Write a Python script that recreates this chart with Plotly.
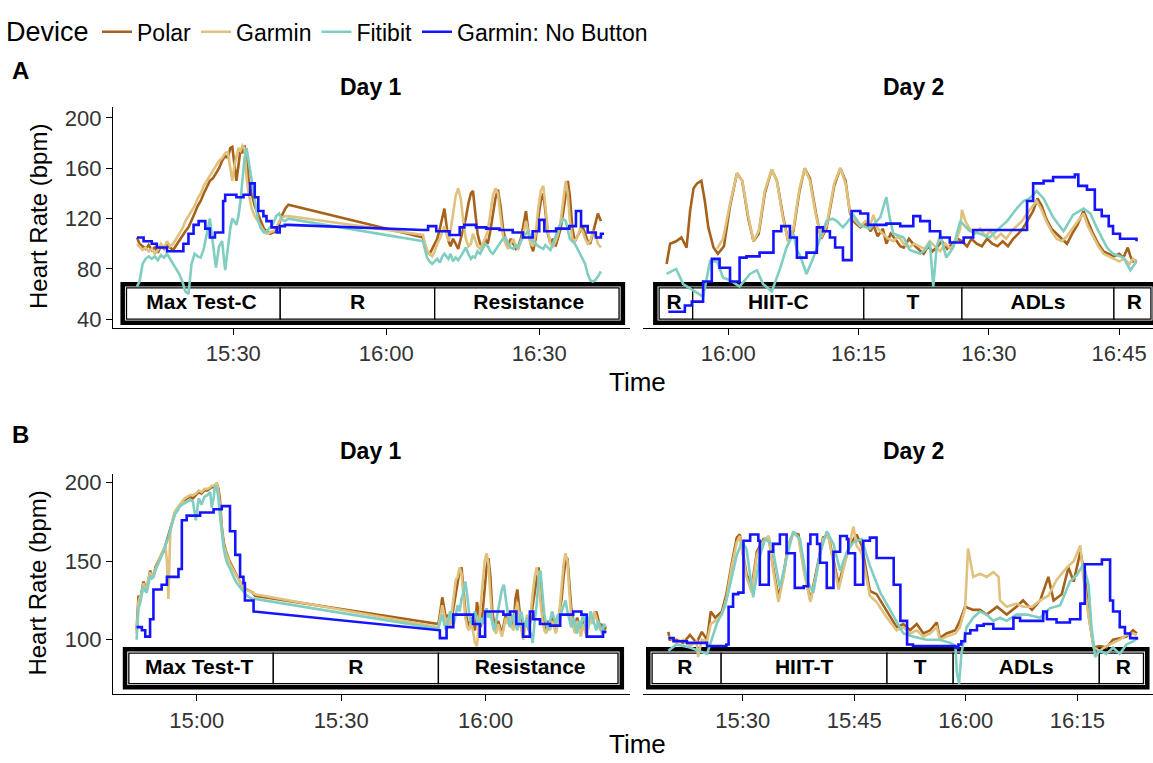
import plotly.graph_objects as go

W, H = 1153, 763
FONT = "Liberation Sans, Arial, Helvetica, sans-serif"

DEVICES = ["Polar", "Garmin", "Fitibit", "Garmin: No Button"]
COLORS = ["#A6611A", "#DFC27D", "#80CDC1", "#1414FF"]

# ---------------- Panel A, Day 1 (minutes after 15:00) ----------------
A1_t = [11.1, 11.6, 12.2, 12.8, 13.4, 14.0, 14.6, 15.2, 15.8, 16.4,
        17.0, 17.6, 18.2, 18.8, 19.4, 20.0, 20.6, 21.2, 21.8, 22.4,
        23.0, 23.6, 24.2, 24.8, 25.4, 26.0, 26.6, 27.2, 27.8, 28.4,
        28.9, 29.4, 29.8, 30.2, 30.6, 31.0, 31.4, 31.8, 32.2, 32.6,
        33.0, 33.6, 34.2, 34.8, 35.4, 36.0, 36.6, 37.2, 37.8, 38.4,
        39.0, 39.6, 40.2, 40.8,
        67.2, 67.6, 68.0, 68.5, 69.0, 69.5, 70.0, 70.5, 71.0, 71.4,
        71.8, 72.2, 72.6, 73.1, 73.6, 74.1, 74.6, 75.1, 75.6, 76.1,
        76.6, 77.0, 77.4, 77.9, 78.4, 78.9, 79.4, 79.9, 80.4, 80.9,
        81.4, 81.9, 82.4, 82.9, 83.4, 83.9, 84.4, 84.9, 85.4, 85.9,
        86.4, 86.9, 87.4, 87.8, 88.3, 88.8, 89.3, 89.8, 90.3, 90.8,
        91.2, 91.7, 92.2, 92.7, 93.2, 93.7, 94.2, 94.7, 95.2, 95.6,
        96.0, 96.5, 97.0, 97.5, 98.0, 98.5, 99.0, 99.5, 100.0, 100.5,
        101.0, 101.5, 102.1]
A1_polar = [105, 100, 98, 96, 99, 95, 97, 93, 98, 96,
            100, 97, 95, 99, 103, 106, 110, 113, 118, 124,
            130, 134, 140, 145, 150, 152, 156, 160, 166, 170,
            168, 176, 177, 165, 150, 162, 175, 172, 178, 170,
            150, 140, 130, 124, 118, 112, 110, 108, 109, 110,
            116, 123, 128, 131,
            105, 98, 94, 92, 96, 100, 104, 112, 122, 128,
            115, 102, 98, 104, 100, 96, 104, 112, 120, 132,
            140, 142, 128, 108, 100, 98, 104, 100, 110, 124,
            136, 143, 130, 112, 102, 98, 104, 100, 96, 98,
            104, 115, 126, 112, 100, 94, 104, 120, 134, 140,
            126, 108, 100, 104, 98, 106, 112, 125, 140, 150,
            138, 112, 102, 106, 110, 114, 108, 102, 100, 108,
            116, 124, 118]
A1_garmin = [100, 98, 95, 97, 94, 96, 92, 95, 100, 97,
             102, 98, 100, 104, 108, 112, 118, 122, 126, 130,
             136, 140, 146, 150, 155, 158, 162, 166, 168, 172,
             173, 160, 150, 162, 170, 176, 174, 178, 176, 152,
             140, 128, 122, 118, 114, 110, 108, 109, 110, 112,
             118, 121, 122, 122,
             107, 100, 95, 92, 90, 94, 100, 104, 110, 114,
             108, 102, 110, 125, 138, 144, 136, 118, 104, 98,
             100, 108, 104, 98, 96, 100, 104, 110, 124, 138,
             144, 140, 122, 106, 100, 96, 100, 104, 98, 96,
             102, 108, 118, 110, 100, 98, 108, 128, 142, 146,
             130, 110, 100, 98, 102, 108, 118, 136, 150, 140,
             118, 104, 102, 106, 112, 110, 104, 100, 102, 110,
             108, 100, 97]
A1_fitbit = [66, 70, 84, 88, 90, 88, 90, 87, 91, 89,
             92, 88, 84, 80, 76, 70, 62, 60, 84, 92,
             90, 89, 96, 108, 120, 100, 81, 98, 102, 79,
             95, 112, 120, 118, 115, 122, 134, 150, 168, 176,
             165, 152, 135, 120, 112, 109, 110, 113, 116, 122,
             124, 119, 118, 120,
             102, 95, 89, 86, 84, 86, 88, 85, 90, 92,
             90, 88, 92, 86, 89, 87, 90, 94, 97, 92,
             88, 90, 89, 94, 92, 96, 100, 98, 94, 92,
             95, 98, 101, 104, 105, 100, 97, 96, 99, 97,
             102, 106, 108, 110, 104, 102, 100, 98, 97, 96,
             99, 97, 95, 100, 106, 112, 116, 120, 118, 110,
             104, 102, 100, 96, 92, 89, 84, 76, 71, 70,
             71, 74, 78]
A1_nb_t = [11.1, 12.4, 14.0, 15.0, 17.0, 20.2, 21.2, 22.2, 23.2, 24.5,
           25.4, 26.4, 28.0, 28.4, 30.6, 32.0, 33.3, 34.2, 34.9, 35.9,
           36.5, 37.5, 38.5, 39.1, 40.1, 40.8, 67.2, 68.2, 69.8, 72.4,
           74.4, 75.3, 77.6, 79.6, 82.2, 84.8, 86.8, 88.7, 90.0, 91.0,
           93.3, 95.9, 97.2, 98.2, 99.5, 101.1, 102.1, 102.7]
A1_nb = [105, 102, 100, 97, 94, 100, 108, 115, 118, 112,
         105, 109, 134, 139, 137, 139, 148, 137, 126, 122,
         118, 113, 109, 114, 115, 115, 111, 114, 110, 107,
         113, 115, 113, 112, 111, 109, 105, 110, 119, 110,
         112, 114, 126, 114, 109, 105, 108, 108]

# ---------------- Panel A, Day 2 (minutes after 15:00) ----------------
A2_polar_t = [52.9, 53.3, 54.0, 54.6, 55.2, 55.6, 56.0, 56.4, 56.9, 57.3,
              57.7, 58.3, 58.8, 59.5, 60.2, 61.0, 61.6, 62.3, 62.9, 63.5,
              64.2, 65.0, 65.6, 66.3, 66.9, 67.5, 68.2, 68.8, 69.4, 70.1,
              70.7, 71.3, 72.2, 72.9, 73.5, 74.0, 74.4, 75.2, 75.8, 76.4,
              76.7, 77.2, 77.8, 78.2, 78.7, 79.2, 79.8, 80.2, 80.8, 81.4,
              82.0, 82.5, 83.0, 83.5, 84.0, 84.6, 85.2, 85.8, 86.4, 86.9,
              87.5, 88.0, 88.6, 89.2, 89.8, 90.4, 91.0, 91.6, 92.2, 92.8,
              93.4, 94.0, 94.6, 95.1, 95.6, 96.1, 96.6, 97.2, 97.8, 98.4,
              99.0, 99.6, 100.2, 100.9, 101.4, 102.0, 102.6, 103.2, 103.8, 104.4,
              105.0, 105.5, 106.0, 106.3, 106.6, 107.0]
A2_polar = [84, 100, 102, 105, 97, 126, 144, 148, 150, 134,
            113, 97, 92, 98, 130, 156, 150, 120, 102, 108,
            140, 159, 150, 122, 102, 110, 142, 160, 152, 124,
            104, 112, 146, 160, 150, 125, 118, 113, 116, 110,
            115, 106, 112, 100, 108, 104, 98, 97, 104, 99,
            95, 92, 98, 94, 97, 102, 96, 100, 104, 102,
            98, 104, 100, 98, 104, 100, 98, 102, 98, 104,
            108, 113, 120, 126, 136, 130, 120, 112, 108, 104,
            100, 108, 115, 126, 118, 108, 100, 94, 92, 90,
            92, 89, 97, 90, 86, 87]
A2_garmin_t = [58.7, 59.4, 60.2, 61.0, 61.6, 62.3, 62.9, 63.5, 64.2, 65.0,
               65.6, 66.3, 66.9, 67.5, 68.2, 68.8, 69.4, 70.1, 70.7, 71.3,
               72.2, 72.9, 73.5, 74.0, 74.4, 75.2, 75.8, 76.4, 76.7, 77.2,
               77.8, 78.4, 79.0, 79.6, 80.2, 80.8, 81.4, 82.0, 82.6, 83.2,
               83.8, 84.4, 85.0, 85.6, 86.2, 86.7, 86.9, 87.3, 87.8, 88.4,
               89.0, 89.6, 90.2, 90.8, 91.4, 92.0, 92.6, 93.2, 93.8, 94.4,
               95.0, 95.5, 96.0, 96.6, 97.2, 97.8, 98.4, 99.0, 99.6, 100.2,
               100.9, 101.4, 102.0, 102.6, 103.2, 103.8, 104.4, 105.0, 105.6, 106.2,
               106.6, 107.0]
A2_garmin = [96, 104, 132, 156, 150, 122, 102, 110, 142, 159,
             150, 120, 102, 112, 144, 160, 150, 122, 105, 114,
             148, 160, 148, 126, 120, 114, 118, 116, 123, 112,
             108, 104, 102, 106, 100, 97, 100, 98, 96, 102,
             98, 94, 100, 96, 102, 112, 127, 118, 112, 108,
             112, 106, 110, 104, 108, 104, 110, 114, 118, 124,
             130, 134, 128, 118, 110, 104, 102, 106, 112, 118,
             124, 114, 106, 98, 92, 90, 88, 86, 88, 84,
             88, 85]
A2_fitbit_t = [52.9, 54.0, 54.8, 56.0, 57.1, 57.9, 58.7, 59.4, 60.2, 61.3,
               62.5, 63.3, 64.0, 65.0, 66.0, 66.7, 67.5, 67.9, 68.3, 69.0,
               69.8, 70.6, 71.3, 72.0, 72.5, 73.2, 74.4, 75.2, 76.3, 77.5,
               78.2, 78.6, 79.0, 80.2, 80.9, 82.1, 82.8, 83.2, 83.6, 84.0,
               84.4, 85.1, 85.9, 86.7, 87.8, 89.0, 90.1, 91.3, 92.1, 93.2,
               94.0, 94.7, 95.5, 96.3, 97.4, 98.6, 99.7, 100.9, 101.7, 102.4,
               103.6, 104.3, 105.5, 106.3, 107.0]
A2_fitbit = [76, 80, 68, 63, 58, 86, 86, 73, 71, 66,
             76, 79, 68, 62, 81, 97, 108, 95, 90, 76,
             89, 105, 118, 120, 118, 113, 123, 115, 112, 121,
             137, 120, 108, 105, 95, 92, 96, 102, 66, 98,
             107, 89, 97, 118, 110, 108, 105, 113, 118, 128,
             134, 136, 142, 136, 121, 110, 123, 128, 124, 113,
             97, 92, 89, 79, 86]
A2_nb_t = [53.1, 55.0, 55.8, 57.1, 58.1, 59.0, 60.2, 61.3, 62.1, 63.6,
           65.2, 66.1, 67.1, 67.9, 69.0, 70.2, 70.9, 71.7, 72.3, 73.2,
           74.2, 75.2, 76.1, 78.2, 79.8, 81.3, 82.1, 83.2, 84.4, 85.5,
           87.1, 88.2, 94.0, 94.4, 95.1, 96.3, 97.4, 99.9, 100.3, 101.3,
           102.2, 103.0, 103.8, 104.3, 105.1, 107.0]
A2_nb = [46, 51, 54, 70, 88, 81, 70, 89, 90, 93,
         110, 114, 105, 89, 93, 113, 110, 105, 97, 87,
         126, 124, 115, 116, 114, 122, 118, 110, 105, 101,
         105, 111, 111, 134, 148, 150, 153, 155, 146, 143,
         127, 122, 114, 108, 104, 102]

# ---------------- Panel B, Day 1 (minutes after 14:00) ----------------
B1_t = [47.5, 47.9, 48.3, 48.6, 48.9, 49.3, 49.6, 50.0, 50.3, 50.7,
        51.0, 51.4, 51.7, 52.1, 52.4, 52.8, 53.1, 53.5, 53.8, 54.1,
        54.5, 55.0, 55.5, 56.0, 56.5, 57.0, 57.5, 58.0, 58.6, 59.2,
        59.8, 60.4, 61.0, 61.6, 62.2, 62.8, 63.1, 63.5, 63.8, 64.2,
        64.5, 64.8, 65.2, 65.6, 66.0, 66.4, 66.8, 67.3, 67.8, 68.3,
        68.8, 69.3, 69.8, 70.4, 71.0, 71.6, 72.1,
        110.2, 110.6, 111.0, 111.4, 111.8, 112.2, 112.6, 113.0, 113.4, 113.8,
        114.2, 114.6, 115.0, 115.4, 115.8, 116.2, 116.6, 117.0, 117.4, 117.8,
        118.2, 118.6, 119.0, 119.4, 119.8, 120.2, 120.6, 121.0, 121.4, 121.8,
        122.2, 122.6, 123.0, 123.4, 123.8, 124.2, 124.6, 125.0, 125.4, 125.8,
        126.2, 126.6, 127.0, 127.4, 127.8, 128.2, 128.6, 129.0, 129.4, 129.8,
        130.2, 130.6, 131.0, 131.4, 131.8, 132.2, 132.6, 133.0, 133.4, 133.8,
        134.2, 134.6, 135.0, 135.4, 135.8, 136.2, 136.6, 137.0, 137.4, 137.8,
        138.2, 138.6, 139.0, 139.4, 139.8, 140.2, 140.6, 141.0, 141.4, 141.8,
        142.2, 142.6, 143.0, 143.4, 143.8, 144.2, 144.6, 145.0]
B1_polar = [106, 128, 126, 131, 137, 134, 133, 138, 144, 141,
            140, 146, 148, 150, 152, 155, 156, 160, 163, 166,
            171, 176, 181, 183, 186, 188, 189, 190, 191, 190,
            192, 194, 193, 195, 195, 196, 197, 197, 198, 199,
            196, 190, 172, 162, 157, 153, 150, 147, 144, 140,
            138, 135, 133, 132, 131, 130, 128,
            110, 118, 127, 120, 112, 116, 110, 114, 122, 130,
            138, 144, 146, 134, 118, 112, 108, 114, 110, 106,
            124, 116, 108, 118, 134, 146, 152, 140, 118, 110,
            106, 112, 108, 104, 110, 116, 112, 118, 110, 108,
            126, 132, 120, 110, 104, 108, 112, 106, 114, 122,
            130, 140, 146, 136, 118, 110, 106, 112, 108, 114,
            110, 106, 112, 118, 126, 140, 150, 152, 138, 120,
            112, 108, 114, 110, 106, 112, 108, 104, 110, 116,
            112, 116, 118, 112, 108, 110, 106, 108]
B1_garmin = [104, 124, 128, 130, 136, 132, 134, 139, 143, 140,
             142, 145, 147, 150, 153, 156, 158, 160, 150, 126,
             168, 177, 182, 184, 186, 188, 190, 191, 192, 192,
             193, 195, 194, 196, 196, 197, 198, 198, 199, 200,
             194, 186, 170, 160, 156, 152, 149, 146, 143, 140,
             137, 135, 133, 132, 131, 130, 129,
             108, 114, 122, 116, 110, 114, 108, 118, 128, 138,
             140, 146, 142, 128, 114, 108, 106, 112, 104, 98,
             96, 110, 124, 140, 150, 155, 148, 128, 112, 106,
             104, 110, 106, 102, 108, 114, 110, 116, 108, 106,
             118, 124, 114, 106, 100, 108, 116, 110, 118, 130,
             140, 146, 140, 124, 112, 106, 104, 110, 106, 112,
             108, 104, 110, 120, 134, 148, 155, 150, 130, 114,
             108, 104, 112, 108, 102, 110, 106, 102, 108, 114,
             110, 118, 114, 110, 106, 108, 104, 106]
B1_fitbit = [100, 120, 124, 128, 134, 131, 130, 136, 141, 139,
             140, 144, 146, 149, 151, 154, 157, 160, 162, 165,
             170, 175, 180, 182, 185, 186, 187, 188, 189, 188,
             176, 190, 186, 191, 192, 194, 184, 190, 198, 196,
             190, 180, 168, 158, 152, 148, 146, 142, 139, 136,
             134, 132, 130, 128, 127, 126, 126,
             107, 112, 116, 110, 106, 112, 118, 114, 110, 116,
             122, 118, 126, 130, 137, 128, 116, 110, 114, 118,
             112, 108, 114, 110, 116, 120, 114, 118, 110, 106,
             112, 118, 124, 132, 135, 126, 114, 108, 112, 116,
             110, 106, 112, 118, 112, 108, 114, 106, 104, 98,
             112, 122, 138, 144, 130, 116, 110, 106, 112, 118,
             114, 110, 116, 112, 118, 122, 125, 118, 112, 108,
             114, 110, 104, 112, 108, 116, 112, 106, 110, 118,
             114, 110, 106, 112, 108, 104, 110, 108]
B1_nb_t = [47.5, 48.6, 49.3, 50.3, 51.0, 52.7, 53.8, 56.2, 56.9, 57.9,
           60.7, 63.5, 65.2, 66.9, 68.0, 69.0, 69.7, 70.0, 71.8, 109.8,
           110.5, 111.9, 113.3, 116.7, 117.4, 118.8, 119.9, 123.7, 125.1, 126.4,
           127.8, 129.2, 129.9, 131.3, 133.4, 135.5, 138.2, 139.9, 141.0, 144.4,
           145.1]
B1_nb = [108, 106, 102, 113, 132, 135, 140, 145, 176, 179,
         181, 183, 185, 169, 154, 140, 136, 125, 118, 106,
         101, 108, 116, 116, 110, 102, 118, 116, 118, 110,
         102, 118, 113, 110, 109, 116, 118, 116, 102, 105,
         105]

# ---------------- Panel B, Day 2 (minutes after 15:00) ----------------
B2_polar_t = [20.0, 20.2, 21.1, 22.0, 22.9, 23.8, 24.5, 25.2, 25.7, 26.3,
              27.2, 27.8, 28.5, 29.2, 29.6, 30.5, 31.2, 31.9, 32.8, 33.5,
              34.1, 34.8, 35.5, 36.1, 36.8, 37.5, 38.2, 39.1, 40.0, 40.8,
              41.5, 42.2, 42.9, 43.5, 44.4, 45.3, 46.0, 47.1, 48.0, 49.4,
              50.7, 51.6, 52.5, 53.4, 54.3, 55.2, 56.1, 56.5, 57.4, 58.6,
              59.2, 59.9, 61.0, 61.9, 62.8, 64.2, 65.5, 66.8, 67.7, 68.9,
              70.0, 71.1, 71.8, 72.9, 73.8, 74.5, 75.4, 76.0, 76.5, 77.2,
              78.0, 78.9, 79.8, 80.7, 81.6, 82.5, 83.0]
B2_polar = [105, 100, 100, 98, 103, 98, 105, 100, 118, 114,
            118, 129, 148, 165, 167, 142, 133, 156, 164, 165,
            146, 127, 142, 160, 168, 167, 146, 125, 146, 165,
            167, 150, 135, 146, 160, 167, 160, 131, 129, 118,
            108, 110, 106, 110, 104, 106, 111, 101, 104, 106,
            112, 121, 119, 119, 116, 121, 116, 121, 125, 119,
            125, 140, 125, 129, 146, 137, 156, 141, 116, 95,
            96, 95, 100, 101, 102, 106, 104]
B2_garmin_t = [20.0, 21.1, 22.0, 22.9, 23.8, 24.0, 24.5, 25.2, 25.7, 26.3,
               27.2, 27.8, 28.5, 29.2, 29.6, 30.5, 31.2, 31.9, 32.8, 33.5,
               34.1, 34.8, 35.5, 36.1, 36.8, 37.5, 38.2, 39.1, 40.0, 40.8,
               41.5, 42.2, 42.9, 43.5, 44.4, 44.9, 45.3, 46.0, 47.1, 48.0,
               49.4, 50.7, 51.6, 52.5, 53.4, 54.3, 55.2, 56.1, 56.5, 57.4,
               58.6, 59.2, 59.9, 60.3, 61.0, 61.9, 62.8, 63.7, 64.4, 64.6,
               65.5, 66.8, 67.7, 68.9, 70.0, 71.1, 72.2, 73.6, 74.5, 75.4,
               75.8, 76.5, 77.2, 78.0, 78.9, 79.8, 80.7, 81.6, 82.5, 83.0]
B2_garmin = [102, 98, 100, 96, 99, 89, 100, 99, 110, 112,
             116, 126, 146, 162, 166, 140, 130, 154, 163, 166,
             144, 124, 140, 160, 168, 165, 144, 124, 144, 164,
             166, 148, 132, 144, 162, 172, 160, 155, 128, 124,
             114, 106, 108, 104, 106, 102, 104, 108, 100, 102,
             104, 108, 120, 158, 140, 142, 140, 143, 140, 125,
             121, 123, 121, 121, 125, 128, 138, 146, 150, 160,
             140, 115, 95, 93, 96, 98, 100, 103, 104, 103]
B2_fitbit_t = [20.0, 21.1, 22.9, 25.2, 26.5, 27.6, 28.3, 29.2, 29.9, 30.5,
               31.4, 32.3, 33.0, 33.9, 35.0, 35.7, 36.8, 37.7, 38.6, 39.5,
               40.4, 41.3, 42.2, 43.1, 44.0, 44.9, 46.0, 47.1, 48.5, 50.3,
               51.6, 52.9, 54.7, 56.5, 57.9, 58.6, 58.8, 59.1, 59.4, 60.1,
               61.0, 61.9, 62.8, 63.7, 64.6, 65.5, 66.8, 68.2, 70.0, 71.3,
               72.7, 74.0, 74.9, 75.8, 76.5, 76.9, 77.4, 78.0, 78.9, 79.8,
               80.7, 81.6, 82.5, 83.0]
B2_fitbit = [93, 97, 95, 91, 110, 121, 135, 154, 162, 158,
             127, 153, 164, 161, 133, 148, 169, 164, 138, 130,
             155, 169, 161, 144, 156, 162, 164, 147, 130, 115,
             104, 102, 100, 100, 98, 96, 79, 72, 91, 108,
             114, 118, 116, 112, 114, 112, 116, 116, 114, 120,
             122, 137, 141, 148, 135, 108, 89, 93, 91, 95,
             91, 97, 99, 101]
B2_nb_t = [20.0, 20.7, 22.5, 25.2, 27.8, 28.1, 28.7, 29.4, 30.1, 31.0,
           32.1, 32.3, 33.2, 33.5, 34.1, 35.0, 35.9, 37.0, 38.2, 38.8,
           39.1, 40.0, 40.4, 41.3, 42.2, 43.1, 44.0, 44.2, 45.1, 46.2,
           47.1, 48.0, 50.3, 51.2, 52.1, 52.9, 54.3, 58.6, 59.0, 59.4,
           59.9, 60.6, 61.5, 62.4, 63.7, 66.4, 67.3, 70.4, 70.9, 72.2,
           74.0, 75.4, 76.0, 78.3, 79.4, 79.8, 80.7, 81.4, 82.1, 83.0]
B2_nb = [101, 99, 98, 96, 97, 121, 129, 130, 163, 167,
         163, 135, 135, 156, 161, 167, 155, 133, 134, 161,
         167, 161, 149, 133, 156, 166, 164, 155, 135, 163,
         165, 152, 135, 112, 97, 96, 96, 95, 97, 99,
         104, 106, 109, 110, 107, 114, 112, 118, 113, 111,
         113, 123, 148, 151, 125, 118, 108, 104, 101, 100]

# ---------------- Activity periods (segment edges in minutes) ----------------
A1_edges = [8.3, 39.2, 69.5, 106.4]
A1_acts = ["Max Test-C", "R", "Resistance"]
A2_edges = [51.6, 55.9, 75.6, 86.9, 104.4, 109.1]
A2_acts = ["R", "HIIT-C", "T", "ADLs", "R"]
B1_edges = [45.1, 75.9, 110.2, 148.3]
B1_acts = ["Max Test-T", "R", "Resistance"]
B2_edges = [17.3, 27.1, 49.4, 58.3, 77.95, 84.4]
B2_acts = ["R", "HIIT-T", "T", "ADLs", "R"]
A_box_hr = [37.2, 67.9]
B_box_hr = [69.7, 93.9]

# ---------------- Axis ticks ----------------
A1_xticks = [30, 60, 90]
A2_xticks = [60, 75, 90, 105]
B1_xticks = [60, 90, 120]
B2_xticks = [30, 45, 60, 75]
A_yticks = [40, 80, 120, 160, 200]
B_yticks = [100, 150, 200]


def stepped(t, v, gap=10):
    """Hold each reading until the next one; long recording gaps are bridged."""
    xs, ys = [], []
    for i in range(len(t)):
        xs.append(t[i]); ys.append(v[i])
        if i + 1 < len(t) and t[i + 1] - t[i] <= gap:
            xs.append(t[i + 1]); ys.append(v[i])
    return xs, ys


def clock(base_hour, minutes):
    return f"{base_hour + minutes // 60}:{minutes % 60:02d}"


panels = [
    dict(base=15, xr=[6.4, 107.8], yr=[33.07, 208.66], xpx=(113, 630), ypx=(105, 328),
         xt=A1_xticks, yt=A_yticks, left=True, edges=A1_edges, acts=A1_acts, box=A_box_hr,
         series=[(A1_t, A1_polar), (A1_t, A1_garmin), (A1_t, A1_fitbit), (A1_nb_t, A1_nb)]),
    dict(base=15, xr=[50.18, 108.9], yr=[33.07, 208.66], xpx=(643, 1153), ypx=(105, 328),
         xt=A2_xticks, yt=A_yticks, left=False, edges=A2_edges, acts=A2_acts, box=A_box_hr,
         series=[(A2_polar_t, A2_polar), (A2_garmin_t, A2_garmin), (A2_fitbit_t, A2_fitbit),
                 (A2_nb_t, A2_nb)]),
    dict(base=14, xr=[42.6, 150.0], yr=[65.4, 205.7], xpx=(113, 630), ypx=(475, 697.5),
         xt=B1_xticks, yt=B_yticks, left=True, edges=B1_edges, acts=B1_acts, box=B_box_hr,
         series=[(B1_t, B1_polar), (B1_t, B1_garmin), (B1_t, B1_fitbit), (B1_nb_t, B1_nb)]),
    dict(base=15, xr=[16.59, 85.17], yr=[65.4, 205.7], xpx=(643, 1153), ypx=(475, 697.5),
         xt=B2_xticks, yt=B_yticks, left=False, edges=B2_edges, acts=B2_acts, box=B_box_hr,
         series=[(B2_polar_t, B2_polar), (B2_garmin_t, B2_garmin), (B2_fitbit_t, B2_fitbit),
                 (B2_nb_t, B2_nb)]),
]

fig = go.Figure()
layout = {}
TICKFONT = dict(family=FONT, size=22, color="#333333")

for i, p in enumerate(panels):
    n = "" if i == 0 else str(i + 1)
    xa, ya = "x" + n, "y" + n
    x0px, x1px = p["xpx"]
    y0px, y1px = p["ypx"]
    layout["xaxis" + n] = dict(
        domain=[x0px / W, min(1.0, x1px / W)], range=p["xr"], anchor=ya,
        showline=True, linecolor="black", linewidth=1.2, ticks="outside", ticklen=6,
        tickwidth=1.2, tickcolor="black", tickvals=p["xt"],
        ticktext=[clock(p["base"], m) for m in p["xt"]], tickfont=TICKFONT,
        showgrid=False, zeroline=False, fixedrange=True)
    layout["yaxis" + n] = dict(
        domain=[1 - y1px / H, 1 - y0px / H], range=p["yr"], anchor=xa,
        showline=p["left"], linecolor="black", linewidth=1.2,
        ticks="outside" if p["left"] else "", ticklen=6, tickwidth=1.2, tickcolor="black",
        tickvals=p["yt"], showticklabels=p["left"], tickfont=TICKFONT,
        showgrid=False, zeroline=False, fixedrange=True)

    # activity strip: thick outer frame with thin inner cells
    px_x = (x1px - x0px) / (p["xr"][1] - p["xr"][0])
    px_y = (y1px - y0px) / (p["yr"][1] - p["yr"][0])
    e = p["edges"]
    lo, hi = p["box"]
    fig.add_shape(type="rect", xref=xa, yref=ya, x0=e[0], x1=e[-1], y0=lo, y1=hi,
                  line=dict(color="black", width=4.5), fillcolor="white", layer="below")
    ix, iy = 3.8 / px_x, 3.8 / px_y
    for k in range(len(e) - 1):
        a = e[k] + (ix if k == 0 else 0)
        b = e[k + 1] - (ix if k == len(e) - 2 else 0)
        fig.add_shape(type="rect", xref=xa, yref=ya, x0=a, x1=b, y0=lo + iy, y1=hi - iy,
                      line=dict(color="black", width=1.3), fillcolor="white", layer="below")
    mids = [(e[k] + e[k + 1]) / 2 for k in range(len(e) - 1)]
    fig.add_trace(go.Scatter(
        x=mids, y=[(lo + hi) / 2] * len(mids), text=p["acts"], mode="text",
        textfont=dict(family=FONT, size=21, color="black", weight="bold"),
        xaxis=xa, yaxis=ya, showlegend=False, hoverinfo="skip", cliponaxis=True))

    for d, (t, v) in enumerate(p["series"]):
        assert len(t) == len(v)
        xs, ys = (stepped(t, v) if d == 3 else (t, v))
        fig.add_trace(go.Scatter(
            x=xs, y=ys, mode="lines", name=DEVICES[d], legendgroup=DEVICES[d],
            showlegend=(i == 0), line=dict(color=COLORS[d], width=2.6),
            xaxis=xa, yaxis=ya, hoverinfo="skip"))


def note(text, xpx, ypx, size, bold=False, angle=0, anchor="center"):
    return dict(text=f"<b>{text}</b>" if bold else text, x=xpx / W, y=1 - ypx / H,
                xref="paper", yref="paper", showarrow=False, textangle=angle,
                xanchor=anchor, yanchor="middle",
                font=dict(family=FONT, size=size, color="black"))


annotations = [
    note("Device", 4, 29, 27, anchor="left"),
    note("A", 21, 68, 24, bold=True),
    note("B", 21, 435, 24, bold=True),
    note("Day 1", 371, 85, 23, bold=True),
    note("Day 2", 913, 85, 23, bold=True),
    note("Day 1", 371, 452, 23, bold=True),
    note("Day 2", 913, 452, 23, bold=True),
    note("Heart Rate (bpm)", 38, 216, 24, angle=-90),
    note("Heart Rate (bpm)", 38, 586, 24, angle=-90),
    note("Time", 637, 383, 26),
    note("Time", 637, 748, 26),
]

fig.update_layout(
    width=W, height=H, margin=dict(l=0, r=0, t=0, b=0),
    paper_bgcolor="white", plot_bgcolor="white",
    font=dict(family=FONT, color="black"),
    annotations=annotations,
    legend=dict(orientation="h", x=97 / W, xanchor="left", y=1 - 29 / H, yanchor="middle",
                font=dict(family=FONT, size=23), traceorder="normal",
                bgcolor="rgba(0,0,0,0)", itemwidth=30),
    **layout,
)

fig.write_html("out.html")
